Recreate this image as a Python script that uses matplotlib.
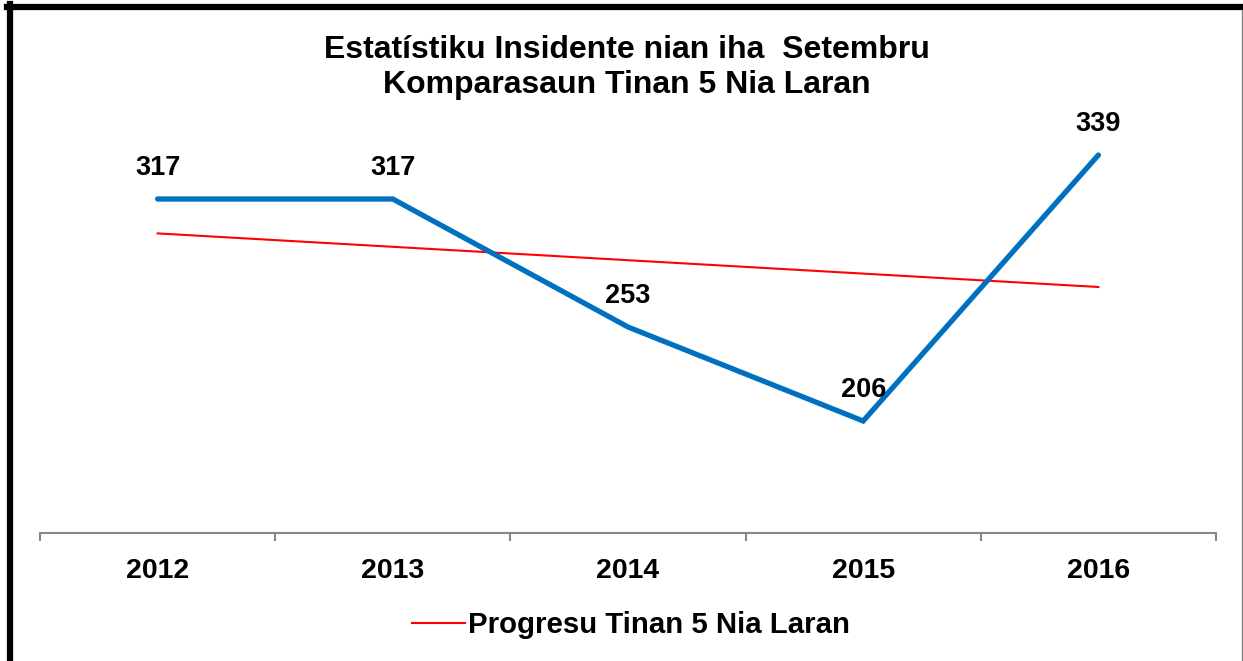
import numpy as np
import matplotlib.pyplot as plt
from matplotlib.lines import Line2D

## Data
years = ['2012', '2013', '2014', '2015', '2016']
incidents = [317, 317, 253, 206, 339]
title_lines = ['Estatístiku Insidente nian iha  Setembru',
               'Komparasaun Tinan 5 Nia Laran']
trend_label = 'Progresu Tinan 5 Nia Laran'

plt.rcParams['font.family'] = ['Liberation Sans', 'DejaVu Sans']

W, H = 1243, 661
fig = plt.figure(figsize=(W / 100, H / 100), dpi=100)

## plot area in pixel terms, converted to figure fractions
left, right, top, bottom = 40, 1216, 113, 533
ax = fig.add_axes([left / W, 1 - bottom / H, (right - left) / W, (bottom - top) / H])

x = np.arange(len(years))

## linear trend line, like Excel's
coef = np.polyfit(x, incidents, 1)
trend = np.polyval(coef, x)

ax.plot(x, incidents, color='#0070C0', lw=3.8, solid_joinstyle='miter',
        solid_capstyle='round', zorder=3)
ax.plot(x, trend, color='#FF0000', lw=1.5, zorder=2, label=trend_label)

for xi, v in zip(x, incidents):
    ax.annotate(str(v), (xi, v), xytext=(0, 13), textcoords='offset points',
                ha='center', va='bottom', fontsize=19.5, fontweight='bold')

ax.set_xlim(-0.5, len(years) - 0.5)
ax.set_ylim(150, 360)

## axis styling: only the bottom line, ticks between categories
for s in ['top', 'right', 'left']:
    ax.spines[s].set_visible(False)
ax.spines['bottom'].set_color('#868686')
ax.spines['bottom'].set_linewidth(1.5)
ax.set_yticks([])
ax.set_xticks(np.arange(len(years) + 1) - 0.5)
ax.set_xticklabels([])
ax.tick_params(axis='x', which='major', length=6, width=1.5, color='#868686',
               direction='out')
ax.set_xticks(x, minor=True)
ax.set_xticklabels(years, minor=True, fontsize=20.5, fontweight='bold')
ax.tick_params(axis='x', which='minor', length=0, pad=18)

fig.text(627 / W, 1 - 50 / H, title_lines[0], ha='center', va='center',
         fontsize=23, fontweight='bold')
fig.text(627 / W, 1 - 85 / H, title_lines[1], ha='center', va='center',
         fontsize=23, fontweight='bold')

fig.legend(handles=[Line2D([], [], color='#FF0000', lw=1.5)], labels=[trend_label],
           loc='center', bbox_to_anchor=(631 / W, 1 - 625 / H), frameon=False,
           prop={'size': 21.2, 'weight': 'bold'}, handlelength=1.8,
           handletextpad=0.1)

## outer frame: thick black left/top, thin grey right
def px(xp, yp):
    return xp / W, 1 - yp / H

fig.add_artist(Line2D(*zip(px(10, 4), px(10, H)), color='black', lw=4.5,
                      transform=fig.transFigure))
fig.add_artist(Line2D(*zip(px(7, 7), px(W, 7)), color='black', lw=4.5,
                      transform=fig.transFigure))
fig.add_artist(Line2D(*zip(px(1242, 10), px(1242, H)), color='#808080', lw=1,
                      transform=fig.transFigure))

fig.savefig('out.png', dpi=100)
